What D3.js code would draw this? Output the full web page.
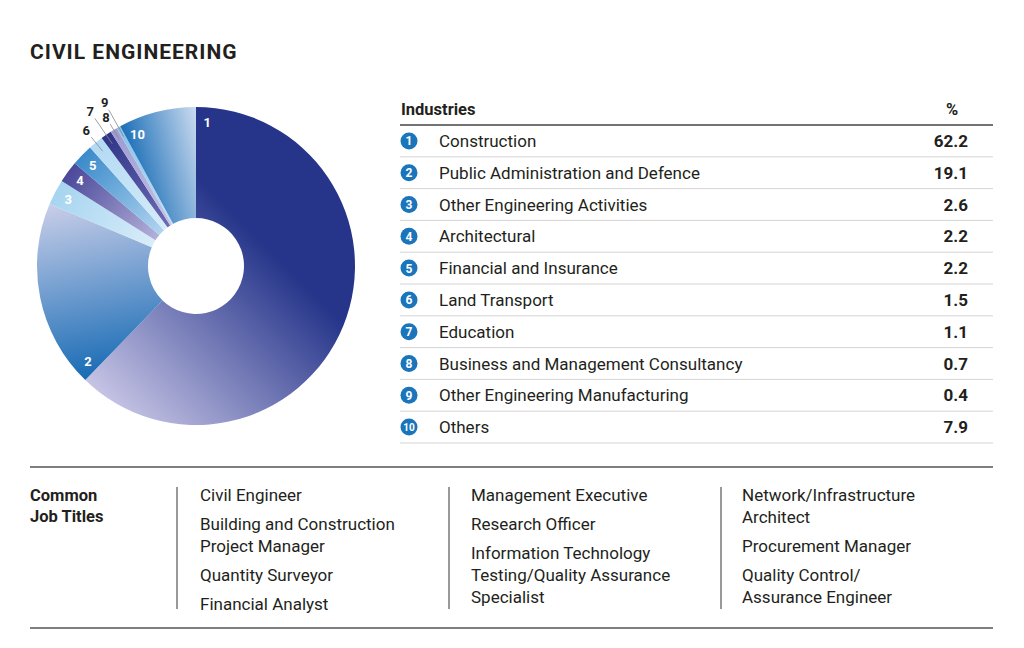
<!DOCTYPE html>
<html>
<head>
<meta charset="utf-8">
<script src="https://cdn.jsdelivr.net/npm/d3@7"></script>
<style>
  html, body { margin: 0; padding: 0; background: #fff; }
  svg { display: block; font-family: Roboto, "Noto Sans", sans-serif; }
</style>
</head>
<body>
<svg id="chart" width="1024" height="648"></svg>
<script>
// ---- data ----
const title = "CIVIL ENGINEERING";
const industries = [
  "Construction",
  "Public Administration and Defence",
  "Other Engineering Activities",
  "Architectural",
  "Financial and Insurance",
  "Land Transport",
  "Education",
  "Business and Management Consultancy",
  "Other Engineering Manufacturing",
  "Others"
];
const shares = [62.2, 19.1, 2.6, 2.2, 2.2, 1.5, 1.1, 0.7, 0.4, 7.9];
const tableHeaders = ["Industries", "%"];
const jobLabel = ["Common", "Job Titles"];
const jobColumns = [
  [["Civil Engineer"], ["Building and Construction", "Project Manager"], ["Quantity Surveyor"], ["Financial Analyst"]],
  [["Management Executive"], ["Research Officer"], ["Information Technology", "Testing/Quality Assurance", "Specialist"]],
  [["Network/Infrastructure", "Architect"], ["Procurement Manager"], ["Quality Control/", "Assurance Engineer"]]
];

// ---- styles ----
const sliceColors = [
  ["#26358a", "#c6c4e5"],
  ["#176bb4", "#c9cee9"],
  ["#a6d4f0", "#d9edf9"],
  ["#4a4899", "#b3b0da"],
  ["#3a8aca", "#b0d4f0"],
  ["#b2daf3", "#d6ecf9"],
  ["#2f3587", "#6d6bb5"],
  ["#9c9ad0", "#c5c4e6"],
  ["#86c2ea", "#c0e0f5"],
  ["#1b6fb7", "#cbdbf0"]
];
const ink = "#231f20";
const badge = "#1b75bb";
const bodySize = 17;

const svg = d3.select("#chart");
const defs = svg.append("defs");

// Title
svg.append("text")
  .attr("x", 30).attr("y", 59)
  .attr("font-size", 21).attr("font-weight", 700)
  .attr("letter-spacing", 1)
  .attr("fill", ink)
  .text(title);

// ---- Donut ----
const cx = 196, cy = 266, R = 159, r0 = 48;
const toRad = d => d * Math.PI / 180;
const pie = d3.pie().sort(null).value(d => d)(shares);
const arc = d3.arc().innerRadius(r0).outerRadius(R);
const g = svg.append("g").attr("transform", `translate(${cx},${cy})`);
const pt = (ang, rad) => [rad * Math.sin(ang), -rad * Math.cos(ang)];

pie.forEach((p, i) => {
  const grad = defs.append("linearGradient")
    .attr("id", "grad" + i)
    .attr("gradientUnits", "userSpaceOnUse");
  let a, b;
  if (i === 0) {
    a = pt(toRad(45), R); b = pt(toRad(225), R);
  } else if (p.endAngle - p.startAngle > 0.3) {
    a = pt(p.startAngle, R); b = pt(p.endAngle, R);
  } else {
    const m = (p.startAngle + p.endAngle) / 2;
    a = pt(m, R); b = pt(m, r0);
  }
  grad.attr("x1", a[0]).attr("y1", a[1]).attr("x2", b[0]).attr("y2", b[1]);
  grad.append("stop").attr("offset", 0).attr("stop-color", sliceColors[i][0]);
  if (i === 0) grad.append("stop").attr("offset", 0.3).attr("stop-color", sliceColors[i][0]);
  grad.append("stop").attr("offset", 1).attr("stop-color", sliceColors[i][1]);
});

g.selectAll("path.slice").data(pie).enter().append("path")
  .attr("class", "slice")
  .attr("d", arc)
  .attr("fill", (d, i) => `url(#grad${i})`);

// Labels
const labelR = 144;
pie.forEach((p, i) => {
  const span = p.endAngle - p.startAngle;
  const inside = span > toRad(6);
  if (inside) {
    const ang = p.startAngle + Math.min(span / 2, toRad(4.5));
    const [x, y] = pt(ang, labelR);
    g.append("text")
      .attr("x", x).attr("y", y)
      .attr("text-anchor", "middle").attr("dominant-baseline", "central")
      .attr("font-size", 13).attr("font-weight", 700).attr("fill", "#fff")
      .text(i + 1);
  } else {
    const m = (p.startAngle + p.endAngle) / 2;
    const far = (i % 2 === 0);
    const tr = far ? 187 : 174;
    const [tx, ty] = pt(m, tr);
    const [lx1, ly1] = pt(m, tr - 8);
    const [lx2, ly2] = pt(m, 148);
    g.append("line")
      .attr("x1", lx1).attr("y1", ly1).attr("x2", lx2).attr("y2", ly2)
      .attr("stroke", "#888").attr("stroke-width", 0.8);
    g.append("text")
      .attr("x", tx).attr("y", ty)
      .attr("text-anchor", "middle").attr("dominant-baseline", "central")
      .attr("font-size", 13).attr("font-weight", 700).attr("fill", ink)
      .text(i + 1);
  }
});

// ---- Table ----
const tx0 = 400, tx1 = 993;
const rowY = d3.scaleBand().domain(d3.range(industries.length)).range([125, 443]);
const tg = svg.append("g");
tg.append("text").attr("x", 401).attr("y", 115)
  .attr("font-size", 16.5).attr("font-weight", 700).attr("fill", ink).text(tableHeaders[0]);
tg.append("text").attr("x", 952).attr("y", 115).attr("text-anchor", "middle")
  .attr("font-size", 16.5).attr("font-weight", 700).attr("fill", ink).text(tableHeaders[1]);
tg.append("line").attr("x1", tx0).attr("x2", tx1).attr("y1", 125).attr("y2", 125)
  .attr("stroke", "#444").attr("stroke-width", 1.3);

industries.forEach((name, i) => {
  const yc = rowY(i) + rowY.bandwidth() / 2;
  const row = tg.append("g");
  row.append("circle").attr("cx", 409).attr("cy", yc).attr("r", 8.5).attr("fill", badge);
  row.append("text").attr("x", 409).attr("y", yc + 0.5)
    .attr("text-anchor", "middle").attr("dominant-baseline", "central")
    .attr("font-size", i === 9 ? 10 : 12).attr("font-weight", 700).attr("fill", "#fff")
    .text(i + 1);
  row.append("text").attr("x", 439).attr("y", yc)
    .attr("dominant-baseline", "central")
    .attr("font-size", bodySize).attr("fill", ink).text(name);
  row.append("text").attr("x", 968).attr("y", yc)
    .attr("text-anchor", "end").attr("dominant-baseline", "central")
    .attr("font-size", bodySize).attr("font-weight", 700).attr("fill", ink)
    .text(shares[i].toFixed(1));
  row.append("line").attr("x1", tx0).attr("x2", tx1)
    .attr("y1", rowY(i) + rowY.bandwidth()).attr("y2", rowY(i) + rowY.bandwidth())
    .attr("stroke", "#d4d4d4").attr("stroke-width", 1);
});

// ---- Job titles ----
const jg = svg.append("g");
jg.append("line").attr("x1", 30).attr("x2", 993).attr("y1", 467).attr("y2", 467)
  .attr("stroke", "#555").attr("stroke-width", 1.5);
jg.append("line").attr("x1", 30).attr("x2", 993).attr("y1", 628).attr("y2", 628)
  .attr("stroke", "#555").attr("stroke-width", 1.5);
jobLabel.forEach((t, i) => {
  jg.append("text").attr("x", 30).attr("y", 501 + i * 21)
    .attr("font-size", 16.5).attr("font-weight", 700).attr("fill", ink).text(t);
});
const colX = [200, 471, 742];
const sepX = [177, 449, 721];
sepX.forEach(x => {
  jg.append("line").attr("x1", x).attr("x2", x).attr("y1", 487).attr("y2", 609)
    .attr("stroke", "#555").attr("stroke-width", 1.2);
});
jobColumns.forEach((items, c) => {
  let y = 501;
  items.forEach(lines => {
    lines.forEach((ln, k) => {
      jg.append("text").attr("x", colX[c]).attr("y", y)
        .attr("font-size", bodySize).attr("fill", ink).text(ln);
      y += 22;
    });
    y += 7;
  });
});
</script>
</body>
</html>
